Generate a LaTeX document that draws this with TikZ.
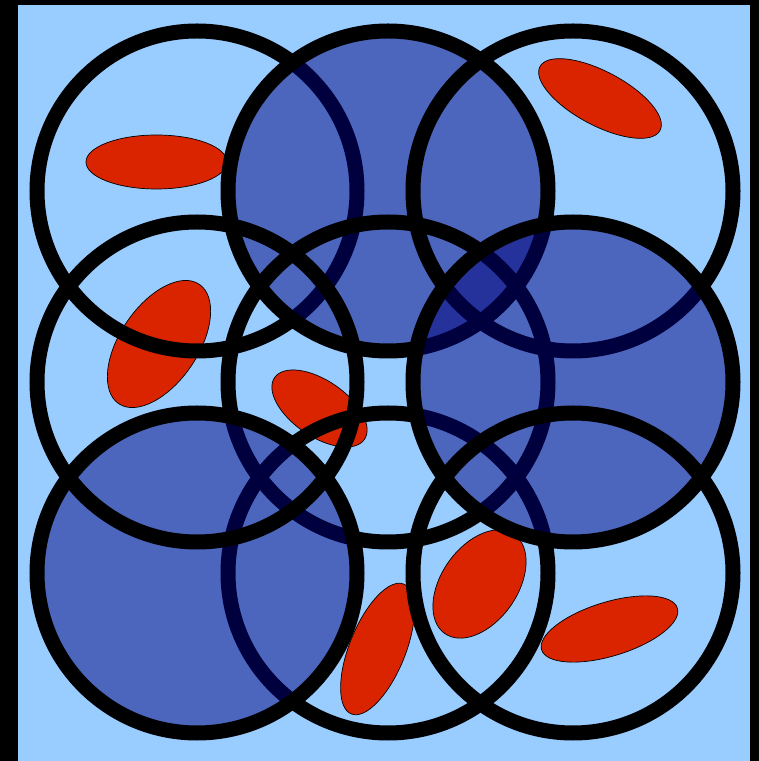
\documentclass[tikz,border=0pt]{standalone}
\usepackage{tikz}
\definecolor{skyfill}{RGB}{153,204,255}
\definecolor{deepblue}{RGB}{0,0,125}
\definecolor{blobred}{RGB}{218,36,0}

\begin{document}
\begin{tikzpicture}[x=1pt,y=1pt,
        ring/.style={draw=black,line width=15pt},
        shaded/.style={ring,fill=deepblue,fill opacity=0.5},
        blob/.style={draw=black,line width=0.7pt,fill=blobred}]
    \useasboundingbox (0,0) rectangle (759,761);
    % frame and background
    \fill[black] (0,0) rectangle (759,761);
    \fill[skyfill] (18,0) rectangle (750,756);
    % red ellipses (below the rings)
    \draw[blob,shift={(156.5,599)}] (0,0) ellipse (70.5 and 27);
    \draw[blob,shift={(600,662.5)},rotate=-28] (0,0) ellipse (68 and 27);
    \draw[blob,shift={(159,417)},rotate=56] (0,0) ellipse (72 and 39);
    \draw[blob,shift={(319.5,352.5)},rotate=-34.5] (0,0) ellipse (54.5 and 28);
    \draw[blob,shift={(377.5,112)},rotate=68] (0,0) ellipse (70 and 28);
    \draw[blob,shift={(479.5,177)},rotate=55] (0,0) ellipse (60.5 and 38);
    \draw[blob,shift={(609.5,132)},rotate=17] (0,0) ellipse (71 and 27);
    % rings, in drawing order
    \draw[ring]   (197,570) circle (160);
    \draw[shaded] (388,570) circle (160);
    \draw[ring]   (573,570) circle (160);
    \draw[ring]   (388,379) circle (160);
    \draw[ring]   (388,188) circle (160);
    \draw[shaded] (573,379) circle (160);
    \draw[ring]   (573,188) circle (160);
    \draw[shaded] (197,188) circle (160);
    \draw[ring]   (197,379) circle (160);
\end{tikzpicture}
\end{document}
